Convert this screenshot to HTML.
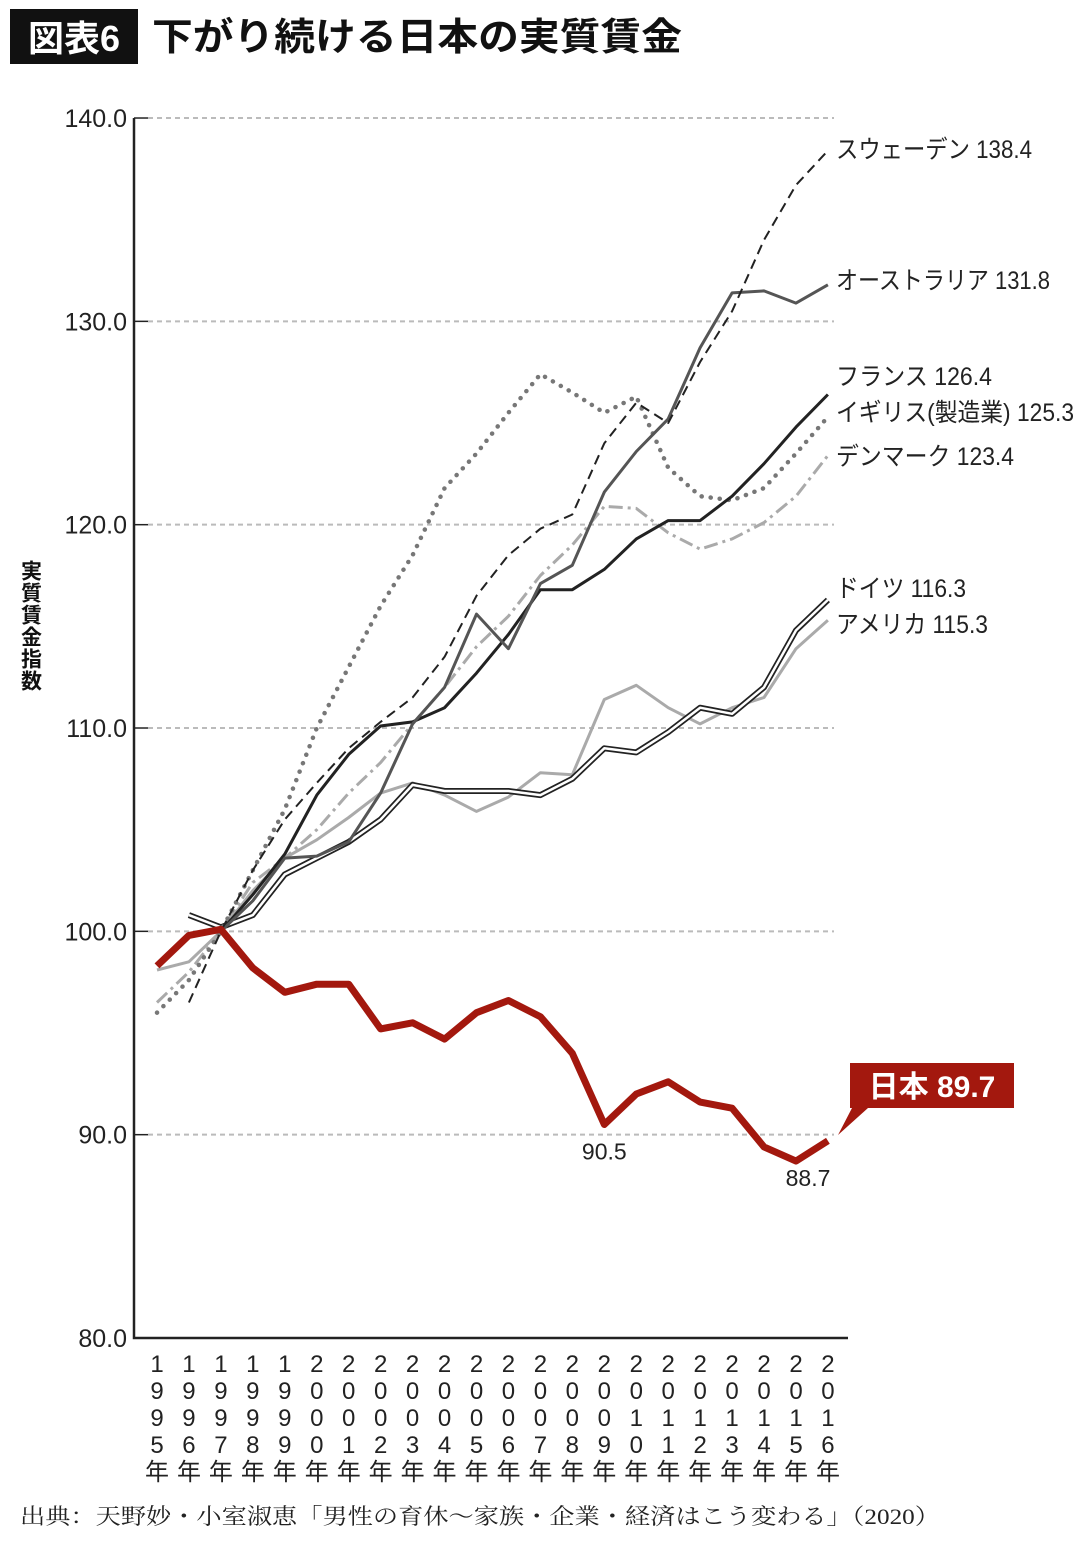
<!DOCTYPE html>
<html><head><meta charset="utf-8">
<style>
body{margin:0;background:#fff;width:1080px;height:1538px;overflow:hidden;font-family:"Liberation Sans","Noto Sans CJK JP",sans-serif;}
svg text{font-family:"Liberation Sans","Noto Sans CJK JP",sans-serif;}
</style></head>
<body>
<svg id="chart" width="1080" height="1538" viewBox="0 0 1080 1538">
<rect x="10" y="9" width="128" height="55" fill="#111"/>
<text x="74" y="51" font-size="36" font-weight="bold" fill="#fff" text-anchor="middle">図表6</text>
<text x="152" y="50" font-size="38" font-weight="bold" fill="#111" textLength="530" lengthAdjust="spacingAndGlyphs">下がり続ける日本の実質賃金</text>
<text x="30" y="560" font-size="21" font-weight="bold" fill="#111" style="writing-mode:vertical-rl;letter-spacing:1px">実質賃金指数</text>
<g id="grid"></g><g id="series"></g><g id="labels"></g>
<text x="20" y="1524" font-size="22" fill="#222" textLength="920" lengthAdjust="spacingAndGlyphs" style="font-family:'Liberation Serif','Noto Serif CJK SC',serif">出典：天野妙・小室淑恵「男性の育休～家族・企業・経済はこう変わる」（2020）</text>
</svg>
<script>
const years=[1995,1996,1997,1998,1999,2000,2001,2002,2003,2004,2005,2006,2007,2008,2009,2010,2011,2012,2013,2014,2015,2016];
const yTicks=[80,90,100,110,120,130,140];
const japan=[98.3,99.8,100.1,98.2,97.0,97.4,97.4,95.2,95.5,94.7,96.0,96.6,95.8,94.0,90.5,92.0,92.6,91.6,91.3,89.4,88.7,89.7];
const sweden=[null,96.5,100,103,105.5,107.3,109,110.3,111.5,113.5,116.5,118.5,119.8,120.5,124,126,125,128,130.5,134,136.7,138.4];
const australia=[null,null,100,101.5,103.6,103.7,104.4,106.8,110.2,112,115.6,113.9,117.1,118,121.6,123.6,125.2,128.7,131.4,131.5,130.9,131.8];
const france=[null,null,100,101.8,103.8,106.7,108.7,110.1,110.3,111,112.7,114.6,116.8,116.8,117.8,119.3,120.2,120.2,121.4,123,124.8,126.4];
const uk=[96,97.6,100,103,106,110,113,116,118.5,121.8,123.5,125.5,127.4,126.5,125.5,126.3,122.8,121.4,121.2,121.8,123.5,125.3];
const denmark=[96.5,98,100,102.4,103.6,105,106.8,108.3,110.2,112,114,115.5,117.5,119,120.9,120.8,119.6,118.8,119.3,120.1,121.4,123.4];
const germany=[null,100.8,100.2,100.8,102.8,103.6,104.4,105.5,107.2,106.9,106.9,106.9,106.7,107.5,109,108.8,109.8,111,110.7,112,114.8,116.3];
const usa=[98.1,98.5,100,102,103.6,104.5,105.6,106.8,107.3,106.7,105.9,106.6,107.8,107.7,111.4,112.1,111,110.2,111,111.5,113.9,115.3];
const NS="http://www.w3.org/2000/svg";
const X=i=>157+i*31.95;
const Y=v=>1338-(v-80)*20.333;
function mk(tag,attrs,parent,txt){const e=document.createElementNS(NS,tag);for(const k in attrs)e.setAttribute(k,attrs[k]);if(txt!=null)e.textContent=txt;parent.appendChild(e);return e;}
const grid=document.getElementById('grid'),ser=document.getElementById('series'),lab=document.getElementById('labels');
yTicks.forEach(t=>{
  if(t>80){const g=mk('line',{x1:148,x2:834,y1:Y(t),y2:Y(t),stroke:'#bbb','stroke-width':2,'stroke-dasharray':'5,4'},grid);
  
  }
  const tk=mk('line',{x1:134,x2:148,y1:Y(t),y2:Y(t),stroke:'#222','stroke-width':1.5},grid);
  
  
  const tl=mk('text',{x:127,y:Y(t)+9,'font-size':25,'text-anchor':'end',fill:'#222'},grid,t.toFixed(1));
  
  
});
const ax=mk('path',{d:'M134 118V1338H848',fill:'none',stroke:'#222','stroke-width':2.5},grid);


years.forEach((yr,i)=>{
  const chars=String(yr).split('').concat(['年']);
  chars.forEach((c,j)=>{const t=mk('text',{x:X(i),y:1372+j*27,'font-size':24,'text-anchor':'middle',fill:'#222'},grid,c);
  
  });
});
function pts(arr){return arr.map((v,i)=>v==null?null:X(i).toFixed(1)+','+Y(v).toFixed(1)).filter(p=>p).join(' ');}
function line(arr,name,attrs){const p=mk('polyline',Object.assign({points:pts(arr),fill:'none','stroke-linejoin':'round'},attrs),ser);
  
  return p;}
line(usa,'line-usa',{stroke:'#aaa','stroke-width':3});
line(germany,'line-germany-outer',{stroke:'#222','stroke-width':6});
line(germany,'line-germany-inner',{stroke:'#fff','stroke-width':2.5});
line(denmark,'line-denmark',{stroke:'#aaa','stroke-width':3,'stroke-dasharray':'14,5,3,5'});
line(uk,'line-uk',{stroke:'#777','stroke-width':4.5,'stroke-dasharray':'0.1,9','stroke-linecap':'round'});
line(france,'line-france',{stroke:'#222','stroke-width':3});
line(australia,'line-australia',{stroke:'#555','stroke-width':3});
line(sweden,'line-sweden',{stroke:'#222','stroke-width':2,'stroke-dasharray':'10,6'});
line(japan,'line-japan',{stroke:'#a3180e','stroke-width':7});
const n=years.length-1;
const lbls=[['スウェーデン 138.4',836,158,196],['オーストラリア 131.8',836,289,214],['フランス 126.4',836,385,156],['イギリス(製造業) 125.3',836,421,238],['デンマーク 123.4',836,465,178],['ドイツ 116.3',836,597,130],['アメリカ 115.3',836,633,152]];
lbls.forEach(l=>{const t=mk('text',{x:l[1],y:l[2],'font-size':25,fill:'#222',textLength:l[3],lengthAdjust:'spacingAndGlyphs'},lab,l[0]);
  
  });
const v1=mk('text',{x:X(14),y:Y(japan[14])+35,'font-size':23,'text-anchor':'middle',fill:'#222'},lab,japan[14].toFixed(1));


const v2=mk('text',{x:X(20)+12,y:Y(japan[20])+25,'font-size':23,'text-anchor':'middle',fill:'#222'},lab,japan[20].toFixed(1));


const cb=mk('path',{d:'M850 1063H1014V1108H868L838 1135L852 1108H850Z',fill:'#a3180e'},lab);


const ct=mk('text',{x:932,y:1097,'font-size':30,'font-weight':'bold','text-anchor':'middle',fill:'#fff'},lab,'日本 '+japan[n].toFixed(1));


</script>
</body></html>
